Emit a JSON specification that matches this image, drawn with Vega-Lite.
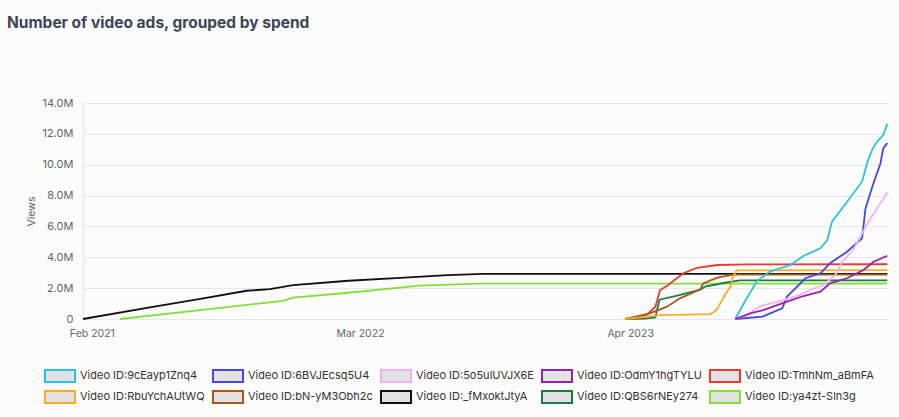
{
  "$schema": "https://vega.github.io/schema/vega-lite/v6.json",
  "autosize": {"type": "none"},
  "width": 805,
  "height": 216,
  "padding": {"left": 83, "top": 103, "right": 11, "bottom": 98},
  "background": "#fcfcfd",
  "title": {
    "text": "Number of video ads, grouped by spend",
    "anchor": "start",
    "frame": "group",
    "dx": -76,
    "dy": -62,
    "font": "Inter",
    "fontSize": 15.5,
    "fontWeight": 700,
    "color": "#3b4556"
  },
  "data": {
    "values": [
      {"video": "Video ID:_fMxoktJtyA", "date": "2021-01-19", "views": 0},
      {"video": "Video ID:_fMxoktJtyA", "date": "2021-04-27", "views": 750000},
      {"video": "Video ID:_fMxoktJtyA", "date": "2021-07-10", "views": 1310000},
      {"video": "Video ID:_fMxoktJtyA", "date": "2021-09-16", "views": 1830000},
      {"video": "Video ID:_fMxoktJtyA", "date": "2021-10-20", "views": 1940000},
      {"video": "Video ID:_fMxoktJtyA", "date": "2021-11-23", "views": 2200000},
      {"video": "Video ID:_fMxoktJtyA", "date": "2022-02-12", "views": 2480000},
      {"video": "Video ID:_fMxoktJtyA", "date": "2022-04-29", "views": 2670000},
      {"video": "Video ID:_fMxoktJtyA", "date": "2022-07-07", "views": 2850000},
      {"video": "Video ID:_fMxoktJtyA", "date": "2022-08-29", "views": 2920000},
      {"video": "Video ID:_fMxoktJtyA", "date": "2024-04-12", "views": 2920000},

      {"video": "Video ID:ya4zt-Sln3g", "date": "2021-03-14", "views": 0},
      {"video": "Video ID:ya4zt-Sln3g", "date": "2021-07-10", "views": 570000},
      {"video": "Video ID:ya4zt-Sln3g", "date": "2021-11-08", "views": 1170000},
      {"video": "Video ID:ya4zt-Sln3g", "date": "2021-11-23", "views": 1380000},
      {"video": "Video ID:ya4zt-Sln3g", "date": "2022-02-12", "views": 1700000},
      {"video": "Video ID:ya4zt-Sln3g", "date": "2022-05-28", "views": 2160000},
      {"video": "Video ID:ya4zt-Sln3g", "date": "2022-08-20", "views": 2290000},
      {"video": "Video ID:ya4zt-Sln3g", "date": "2024-04-12", "views": 2300000},

      {"video": "Video ID:TmhNm_aBmFA", "date": "2023-03-25", "views": 0},
      {"video": "Video ID:TmhNm_aBmFA", "date": "2023-04-16", "views": 150000},
      {"video": "Video ID:TmhNm_aBmFA", "date": "2023-04-26", "views": 300000},
      {"video": "Video ID:TmhNm_aBmFA", "date": "2023-05-08", "views": 800000},
      {"video": "Video ID:TmhNm_aBmFA", "date": "2023-05-15", "views": 1880000},
      {"video": "Video ID:TmhNm_aBmFA", "date": "2023-05-27", "views": 2200000},
      {"video": "Video ID:TmhNm_aBmFA", "date": "2023-06-02", "views": 2420000},
      {"video": "Video ID:TmhNm_aBmFA", "date": "2023-06-18", "views": 2960000},
      {"video": "Video ID:TmhNm_aBmFA", "date": "2023-07-08", "views": 3320000},
      {"video": "Video ID:TmhNm_aBmFA", "date": "2023-08-07", "views": 3500000},
      {"video": "Video ID:TmhNm_aBmFA", "date": "2023-09-24", "views": 3540000},
      {"video": "Video ID:TmhNm_aBmFA", "date": "2024-04-12", "views": 3550000},

      {"video": "Video ID:QBS6rNEy274", "date": "2023-03-25", "views": 0},
      {"video": "Video ID:QBS6rNEy274", "date": "2023-04-23", "views": 30000},
      {"video": "Video ID:QBS6rNEy274", "date": "2023-05-08", "views": 100000},
      {"video": "Video ID:QBS6rNEy274", "date": "2023-05-14", "views": 1250000},
      {"video": "Video ID:QBS6rNEy274", "date": "2023-06-09", "views": 1520000},
      {"video": "Video ID:QBS6rNEy274", "date": "2023-07-13", "views": 1900000},
      {"video": "Video ID:QBS6rNEy274", "date": "2023-07-20", "views": 2100000},
      {"video": "Video ID:QBS6rNEy274", "date": "2023-08-18", "views": 2350000},
      {"video": "Video ID:QBS6rNEy274", "date": "2023-09-09", "views": 2500000},
      {"video": "Video ID:QBS6rNEy274", "date": "2024-04-12", "views": 2500000},

      {"video": "Video ID:bN-yM3Obh2c", "date": "2023-03-25", "views": 0},
      {"video": "Video ID:bN-yM3Obh2c", "date": "2023-04-30", "views": 370000},
      {"video": "Video ID:bN-yM3Obh2c", "date": "2023-05-25", "views": 800000},
      {"video": "Video ID:bN-yM3Obh2c", "date": "2023-06-13", "views": 1340000},
      {"video": "Video ID:bN-yM3Obh2c", "date": "2023-07-13", "views": 1920000},
      {"video": "Video ID:bN-yM3Obh2c", "date": "2023-07-17", "views": 2300000},
      {"video": "Video ID:bN-yM3Obh2c", "date": "2023-08-07", "views": 2680000},
      {"video": "Video ID:bN-yM3Obh2c", "date": "2023-08-30", "views": 2880000},
      {"video": "Video ID:bN-yM3Obh2c", "date": "2024-04-12", "views": 2880000},

      {"video": "Video ID:RbuYchAUtWQ", "date": "2023-03-25", "views": 0},
      {"video": "Video ID:RbuYchAUtWQ", "date": "2023-04-26", "views": 150000},
      {"video": "Video ID:RbuYchAUtWQ", "date": "2023-05-15", "views": 250000},
      {"video": "Video ID:RbuYchAUtWQ", "date": "2023-07-27", "views": 320000},
      {"video": "Video ID:RbuYchAUtWQ", "date": "2023-08-02", "views": 450000},
      {"video": "Video ID:RbuYchAUtWQ", "date": "2023-08-07", "views": 690000},
      {"video": "Video ID:RbuYchAUtWQ", "date": "2023-08-18", "views": 1560000},
      {"video": "Video ID:RbuYchAUtWQ", "date": "2023-08-26", "views": 2100000},
      {"video": "Video ID:RbuYchAUtWQ", "date": "2023-08-29", "views": 2640000},
      {"video": "Video ID:RbuYchAUtWQ", "date": "2023-09-04", "views": 3150000},
      {"video": "Video ID:RbuYchAUtWQ", "date": "2024-04-12", "views": 3170000},

      {"video": "Video ID:9cEayp1Znq4", "date": "2023-09-02", "views": 0},
      {"video": "Video ID:9cEayp1Znq4", "date": "2023-09-17", "views": 1200000},
      {"video": "Video ID:9cEayp1Znq4", "date": "2023-10-04", "views": 2460000},
      {"video": "Video ID:9cEayp1Znq4", "date": "2023-10-23", "views": 3070000},
      {"video": "Video ID:9cEayp1Znq4", "date": "2023-11-22", "views": 3500000},
      {"video": "Video ID:9cEayp1Znq4", "date": "2023-12-11", "views": 4080000},
      {"video": "Video ID:9cEayp1Znq4", "date": "2024-01-05", "views": 4580000},
      {"video": "Video ID:9cEayp1Znq4", "date": "2024-01-15", "views": 5120000},
      {"video": "Video ID:9cEayp1Znq4", "date": "2024-01-22", "views": 6310000},
      {"video": "Video ID:9cEayp1Znq4", "date": "2024-02-13", "views": 7600000},
      {"video": "Video ID:9cEayp1Znq4", "date": "2024-03-06", "views": 8900000},
      {"video": "Video ID:9cEayp1Znq4", "date": "2024-03-14", "views": 10200000},
      {"video": "Video ID:9cEayp1Znq4", "date": "2024-03-21", "views": 11000000},
      {"video": "Video ID:9cEayp1Znq4", "date": "2024-03-28", "views": 11500000},
      {"video": "Video ID:9cEayp1Znq4", "date": "2024-04-06", "views": 11920000},
      {"video": "Video ID:9cEayp1Znq4", "date": "2024-04-12", "views": 12650000},

      {"video": "Video ID:6BVJEcsq5U4", "date": "2023-09-02", "views": 0},
      {"video": "Video ID:6BVJEcsq5U4", "date": "2023-10-12", "views": 150000},
      {"video": "Video ID:6BVJEcsq5U4", "date": "2023-11-10", "views": 690000},
      {"video": "Video ID:6BVJEcsq5U4", "date": "2023-11-17", "views": 1450000},
      {"video": "Video ID:6BVJEcsq5U4", "date": "2023-12-14", "views": 2640000},
      {"video": "Video ID:6BVJEcsq5U4", "date": "2024-01-05", "views": 2960000},
      {"video": "Video ID:6BVJEcsq5U4", "date": "2024-01-19", "views": 3610000},
      {"video": "Video ID:6BVJEcsq5U4", "date": "2024-02-13", "views": 4360000},
      {"video": "Video ID:6BVJEcsq5U4", "date": "2024-03-06", "views": 5230000},
      {"video": "Video ID:6BVJEcsq5U4", "date": "2024-03-11", "views": 7170000},
      {"video": "Video ID:6BVJEcsq5U4", "date": "2024-03-21", "views": 8570000},
      {"video": "Video ID:6BVJEcsq5U4", "date": "2024-04-02", "views": 10100000},
      {"video": "Video ID:6BVJEcsq5U4", "date": "2024-04-06", "views": 11060000},
      {"video": "Video ID:6BVJEcsq5U4", "date": "2024-04-12", "views": 11400000},

      {"video": "Video ID:5o5ulUVJX6E", "date": "2023-09-02", "views": 0},
      {"video": "Video ID:5o5ulUVJX6E", "date": "2023-09-20", "views": 260000},
      {"video": "Video ID:5o5ulUVJX6E", "date": "2023-10-09", "views": 840000},
      {"video": "Video ID:5o5ulUVJX6E", "date": "2023-11-12", "views": 1230000},
      {"video": "Video ID:5o5ulUVJX6E", "date": "2023-12-06", "views": 1560000},
      {"video": "Video ID:5o5ulUVJX6E", "date": "2023-12-21", "views": 1880000},
      {"video": "Video ID:5o5ulUVJX6E", "date": "2024-01-09", "views": 2200000},
      {"video": "Video ID:5o5ulUVJX6E", "date": "2024-01-27", "views": 2850000},
      {"video": "Video ID:5o5ulUVJX6E", "date": "2024-02-06", "views": 3710000},
      {"video": "Video ID:5o5ulUVJX6E", "date": "2024-02-22", "views": 4470000},
      {"video": "Video ID:5o5ulUVJX6E", "date": "2024-03-14", "views": 6200000},
      {"video": "Video ID:5o5ulUVJX6E", "date": "2024-03-28", "views": 7170000},
      {"video": "Video ID:5o5ulUVJX6E", "date": "2024-04-12", "views": 8200000},

      {"video": "Video ID:OdmY1hgTYLU", "date": "2023-09-02", "views": 0},
      {"video": "Video ID:OdmY1hgTYLU", "date": "2023-09-24", "views": 370000},
      {"video": "Video ID:OdmY1hgTYLU", "date": "2023-10-13", "views": 580000},
      {"video": "Video ID:OdmY1hgTYLU", "date": "2023-11-17", "views": 1120000},
      {"video": "Video ID:OdmY1hgTYLU", "date": "2023-12-11", "views": 1490000},
      {"video": "Video ID:OdmY1hgTYLU", "date": "2024-01-05", "views": 1770000},
      {"video": "Video ID:OdmY1hgTYLU", "date": "2024-01-19", "views": 2310000},
      {"video": "Video ID:OdmY1hgTYLU", "date": "2024-02-13", "views": 2640000},
      {"video": "Video ID:OdmY1hgTYLU", "date": "2024-03-08", "views": 3180000},
      {"video": "Video ID:OdmY1hgTYLU", "date": "2024-03-23", "views": 3710000},
      {"video": "Video ID:OdmY1hgTYLU", "date": "2024-04-12", "views": 4100000}
    ]
  },
  "mark": {"type": "line", "strokeWidth": 1.8, "interpolate": "linear"},
  "encoding": {
    "x": {
      "field": "date",
      "type": "temporal",
      "scale": {
        "type": "utc",
        "domain": [
          {"year": 2021, "month": "jan", "date": 19, "utc": true},
          {"year": 2024, "month": "apr", "date": 13, "utc": true}
        ]
      },
      "axis": {
        "title": null,
        "values": [
          {"year": 2021, "month": "feb", "date": 1, "utc": true},
          {"year": 2022, "month": "mar", "date": 1, "utc": true},
          {"year": 2023, "month": "apr", "date": 1, "utc": true}
        ],
        "labelExpr": "utcFormat(datum.value, '%b %Y')",
        "grid": false,
        "domain": false,
        "ticks": false,
        "labelPadding": 9,
        "labelFont": "Inter",
        "labelFontSize": 10.5,
        "labelColor": "#666666"
      }
    },
    "y": {
      "field": "views",
      "type": "quantitative",
      "scale": {"domain": [0, 14000000], "nice": false},
      "axis": {
        "title": "Views",
        "values": [0, 2000000, 4000000, 6000000, 8000000, 10000000, 12000000, 14000000],
        "labelExpr": "datum.value == 0 ? '0' : format(datum.value / 1000000, '.1f') + 'M'",
        "grid": true,
        "gridColor": "#e8e8e8",
        "gridWidth": 1,
        "domain": true,
        "domainColor": "#e4e4e4",
        "ticks": false,
        "labelPadding": 10,
        "labelFont": "Inter",
        "labelFontSize": 11,
        "labelColor": "#666666",
        "titleFont": "Inter",
        "titleFontSize": 10.5,
        "titleFontWeight": "normal",
        "titleColor": "#666666",
        "titlePadding": 6
      }
    },
    "color": {
      "field": "video",
      "type": "nominal",
      "scale": {
        "domain": [
          "Video ID:9cEayp1Znq4",
          "Video ID:6BVJEcsq5U4",
          "Video ID:5o5ulUVJX6E",
          "Video ID:OdmY1hgTYLU",
          "Video ID:TmhNm_aBmFA",
          "Video ID:RbuYchAUtWQ",
          "Video ID:bN-yM3Obh2c",
          "Video ID:_fMxoktJtyA",
          "Video ID:QBS6rNEy274",
          "Video ID:ya4zt-Sln3g"
        ],
        "range": ["#2ac3e6", "#4747e3", "#f0b2f4", "#9c1fb4", "#ec3a2b", "#fbab27", "#a9591c", "#111111", "#1f7a46", "#84de3b"]
      },
      "legend": {
        "title": null,
        "orient": "none",
        "legendX": -30,
        "legendY": 266,
        "direction": "horizontal",
        "columns": 5,
        "gridAlign": "none",
        "symbolType": "M-2.5,-1H2.5V1H-2.5Z",
        "symbolSize": 144,
        "symbolFillColor": "#e2e2e2",
        "symbolStrokeWidth": 2,
        "symbolOpacity": 1,
        "labelFont": "Inter",
        "labelFontSize": 11,
        "labelColor": "#333333",
        "labelOffset": 13,
        "columnPadding": 4,
        "rowPadding": 1,
        "labelLimit": 300
      }
    }
  },
  "config": {
    "view": {"stroke": null},
    "font": "Inter"
  }
}
